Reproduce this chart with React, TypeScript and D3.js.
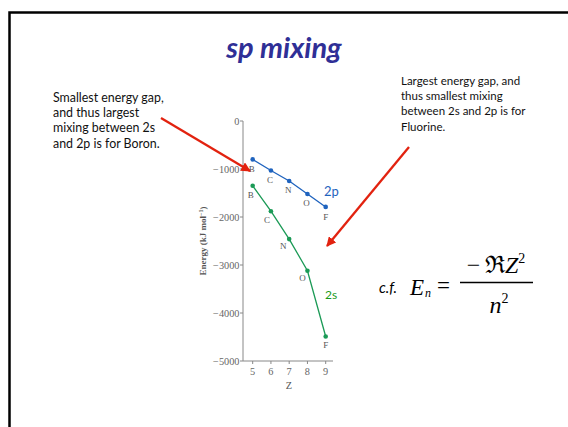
import React from "react";
import * as d3 from "d3";

const Z = [5, 6, 7, 8, 9];
const elements = ["B", "C", "N", "O", "F"];
const energy2p = [-800, -1030, -1250, -1520, -1790];
const energy2s = [-1350, -1880, -2460, -3120, -4490];
const yTicks = [0, -1000, -2000, -3000, -4000, -5000];
const xTicks = [5, 6, 7, 8, 9];
const leftNote = ["Smallest energy gap,", "and thus largest", "mixing between 2s", "and 2p is for Boron."];
const rightNote = ["Largest energy gap, and", "thus smallest mixing", "between 2s and 2p is for", "Fluorine."];

// layout (style) constants
const off2p = [[-1, 13], [-1, 13], [-1, 12], [-1, 12], [0, 13]];
const off2s = [[-2, 12], [-4, 12], [-6, 10], [-5, 10], [0, 11]];

const BLUE = "#1f63be";
const GREEN = "#1b9a56";
const RED = "#e2220f";
const SERIF = "'Liberation Serif', 'DejaVu Serif', serif";
const SANS = "Lato, 'Open Sans', sans-serif";

export default function App() {
  const x = d3.scaleLinear().domain([4.47, 9.4]).range([243, 333]);
  const y = d3.scaleLinear().domain([0, -5000]).range([121, 361]);
  const line = d3
    .line<number>()
    .x((_, i) => x(Z[i]))
    .y((d) => y(d));

  return (
    <svg
      width={568}
      height={427}
      style={{ position: "absolute", left: 0, top: 0, background: "#fff" }}
    >
      <defs>
        <marker id="ah" viewBox="0 0 10 10" refX="9" refY="5" markerWidth="4.2" markerHeight="4.2" orient="auto">
          <path d="M0,0 L10,5 L0,10 z" fill={RED} />
        </marker>
      </defs>
      <rect x={0} y={0} width={568} height={427} fill="#fff" />
      {/* slide frame */}
      <path d="M9.5,440 L9.5,12.5 L600,12.5" fill="none" stroke="#000" strokeWidth={2.5} />

      {/* title */}
      <text
        x={284}
        y={58}
        textAnchor="middle"
        fontFamily={SANS}
        fontStyle="italic"
        fontWeight="bold"
        fontSize={29}
        fill="#2f2f96"
      >
        sp mixing
      </text>

      {/* annotations */}
      <g fontFamily={SANS} fill="#111">
        {leftNote.map((t, i) => (
          <text key={"l" + i} x={53} y={101.5 + i * 15.4} fontSize={12.4}>{t}</text>
        ))}
        {rightNote.map((t, i) => (
          <text key={"r" + i} x={401} y={84.5 + i * 15.4} fontSize={11.5}>{t}</text>
        ))}
      </g>

      {/* axes */}
      <g fontFamily={SERIF} fontSize={10.3} fill="#666">
        <line x1={243} x2={243} y1={y(0)} y2={y(-5000)} stroke="#888" strokeWidth={1} />
        <line x1={243} x2={333} y1={y(-5000)} y2={y(-5000)} stroke="#888" strokeWidth={1} />
        {yTicks.map((t) => (
          <g key={"y" + t}>
            <line x1={240} x2={243} y1={y(t)} y2={y(t)} stroke="#888" />
            <text x={239.5} y={y(t) + 3.5} textAnchor="end">
              {t === 0 ? "0" : "\u2212" + Math.abs(t)}
            </text>
          </g>
        ))}
        {xTicks.map((t) => (
          <g key={"x" + t}>
            <line x1={x(t)} x2={x(t)} y1={y(-5000)} y2={y(-5000) + 3} stroke="#888" />
            <text x={x(t)} y={y(-5000) + 14} textAnchor="middle">{t}</text>
          </g>
        ))}
        <text x={289} y={389} textAnchor="middle" fill="#555">Z</text>
        <text
          transform={`translate(206,241) rotate(-90)`}
          textAnchor="middle"
          fontSize={9}
          fontWeight="bold"
          fill="#555"
        >
          Energy (kJ mol<tspan dy={-3} fontSize={6}>{"\u22121"}</tspan><tspan dy={3}>)</tspan>
        </text>
      </g>

      {/* series */}
      <path d={line(energy2p) || ""} fill="none" stroke={BLUE} strokeWidth={1.3} />
      <path d={line(energy2s) || ""} fill="none" stroke={GREEN} strokeWidth={1.3} />
      {energy2p.map((v, i) => (
        <circle key={"p" + i} cx={x(Z[i])} cy={y(v)} r={2.3} fill={BLUE} />
      ))}
      {energy2s.map((v, i) => (
        <circle key={"s" + i} cx={x(Z[i])} cy={y(v)} r={2.3} fill={GREEN} />
      ))}
      <g fontFamily={SERIF} fontSize={9} fill="#555" textAnchor="middle">
        {elements.map((e, i) => (
          <text key={"lp" + i} x={x(Z[i]) + off2p[i][0]} y={y(energy2p[i]) + off2p[i][1]}>{e}</text>
        ))}
        {elements.map((e, i) => (
          <text key={"ls" + i} x={x(Z[i]) + off2s[i][0]} y={y(energy2s[i]) + off2s[i][1]}>{e}</text>
        ))}
      </g>
      <text x={324} y={196} fontFamily={SANS} fontSize={13} fill={BLUE}>2p</text>
      <text x={325} y={299} fontFamily={SANS} fontSize={12} fill="#1a9a1a">2s</text>

      {/* arrows */}
      <line x1={161} y1={118} x2={250} y2={171} stroke={RED} strokeWidth={2.3} markerEnd="url(#ah)" />
      <line x1={409} y1={147} x2={327} y2={246} stroke={RED} strokeWidth={2.3} markerEnd="url(#ah)" />

      {/* formula */}
      <g fontFamily={SERIF} fill="#000">
        <text x={379} y={293} fontSize={15} fontStyle="italic" fontFamily={SANS}>c.f.</text>
        <text x={410} y={295} fontSize={23} fontStyle="italic">E</text>
        <text x={425} y={297} fontSize={12} fontStyle="italic">n</text>
        <text x={437} y={293} fontSize={23}>=</text>
        <text x={496} y={273} fontSize={24} textAnchor="middle">
          {"\u2212\u2009\u211C"}<tspan fontStyle="italic">Z</tspan><tspan dy={-10} fontSize={14}>2</tspan>
        </text>
        <line x1={460} x2={533} y1={282.5} y2={282.5} stroke="#000" strokeWidth={1.3} />
        <text x={499} y={313} fontSize={24} fontStyle="italic" textAnchor="middle">
          n<tspan dy={-10} fontSize={14} fontStyle="normal">2</tspan>
        </text>
      </g>
    </svg>
  );
}
